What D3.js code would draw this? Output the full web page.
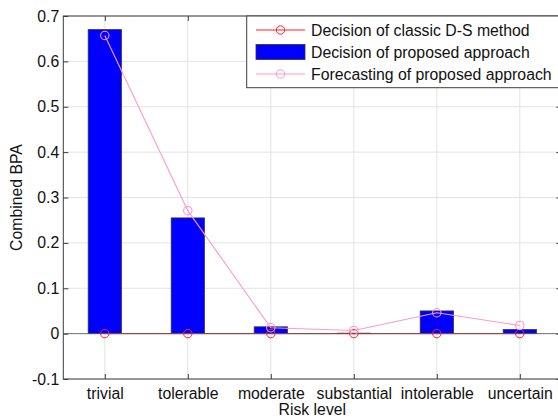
<!DOCTYPE html>
<html>
<head>
<meta charset="utf-8">
<script src="https://cdn.jsdelivr.net/npm/d3@7"></script>
<style>
  html, body { margin: 0; padding: 0; background: #fff; }
  svg { display: block; }
  text { font-family: "Liberation Sans", Arial, sans-serif; }
</style>
</head>
<body>
<div id="chart"></div>
<script>
const categories = ["trivial", "tolerable", "moderate", "substantial", "intolerable", "uncertain"];
const classicDS = [0, 0, 0, 0, 0, 0];
const proposedDecision = [0.67, 0.255, 0.015, 0.001, 0.05, 0.009];
const proposedForecast = [0.657, 0.271, 0.013, 0.007, 0.046, 0.018];
const yTicks = [-0.1, 0, 0.1, 0.2, 0.3, 0.4, 0.5, 0.6, 0.7];
const legendLabels = ["Decision of classic D-S method", "Decision of proposed approach", "Forecasting of proposed approach"];

(function () {
const W = 558, H = 420;
const pL = 63.3, pR = 561.3, pT = 16, pB = 379;
const fs = 15.8;
const axisColor = "#3c3c3c";
const ff = '"Liberation Sans", Arial, sans-serif';

const svg = d3.select("#chart").append("svg").attr("width", W).attr("height", H);
svg.append("rect").attr("width", W).attr("height", H).attr("fill", "#fff");

const x = d3.scaleLinear().domain([0.5, categories.length + 0.5]).range([pL, pR]);
const y = d3.scaleLinear().domain([-0.1, 0.7]).range([pB, pT]);
const idx = categories.map((_, i) => i + 1);

// grid
const grid = svg.append("g").attr("stroke", "#e3e3e3").attr("stroke-width", 1);
grid.selectAll(".gy").data(yTicks).join("line")
  .attr("x1", pL).attr("x2", pR).attr("y1", d => y(d)).attr("y2", d => y(d));
grid.selectAll(".gx").data(idx).join("line")
  .attr("x1", d => x(d)).attr("x2", d => x(d)).attr("y1", pT).attr("y2", pB);

// bars
const bw = 0.4;
svg.append("g").selectAll("rect").data(proposedDecision).join("rect")
  .attr("x", (d, i) => x(i + 1 - bw / 2))
  .attr("width", x(1 + bw / 2) - x(1 - bw / 2))
  .attr("y", d => y(Math.max(d, 0)))
  .attr("height", d => Math.abs(y(0) - y(d)))
  .attr("fill", "#0000ff").attr("stroke", "#333").attr("stroke-width", 0.8);

const lineGen = d3.line().x((d, i) => x(i + 1)).y(d => y(d));
// classic D-S line
svg.append("path").datum(classicDS).attr("d", lineGen)
  .attr("fill", "none").attr("stroke", "#ff2020").attr("stroke-width", 1);

// baseline
svg.append("line").attr("x1", pL).attr("x2", pR).attr("y1", y(0)).attr("y2", y(0))
  .attr("stroke", "#555").attr("stroke-width", 1).attr("opacity", 0.8);

svg.append("g").selectAll("circle").data(classicDS).join("circle")
  .attr("cx", (d, i) => x(i + 1)).attr("cy", d => y(d)).attr("r", 4.2)
  .attr("fill", "none").attr("stroke", "#ff2020").attr("stroke-width", 1);

// forecast line
svg.append("path").datum(proposedForecast).attr("d", lineGen)
  .attr("fill", "none").attr("stroke", "#ff99cc").attr("stroke-width", 1.1);
svg.append("g").selectAll("circle").data(proposedForecast).join("circle")
  .attr("cx", (d, i) => x(i + 1)).attr("cy", d => y(d)).attr("r", 4.2)
  .attr("fill", "none").attr("stroke", "#ff99cc").attr("stroke-width", 1.1);

// axes box
svg.append("rect").attr("x", pL).attr("y", pT).attr("width", pR - pL).attr("height", pB - pT)
  .attr("fill", "none").attr("stroke", axisColor).attr("stroke-width", 1);

// axes with inward ticks
const tl = 5;
svg.append("g").attr("transform", `translate(${pL},0)`)
  .call(d3.axisLeft(y).tickValues(yTicks).tickSize(-tl).tickPadding(4).tickFormat(d => String(+d.toFixed(1))))
  .call(g => g.select(".domain").remove())
  .call(g => g.selectAll("line").attr("stroke", axisColor))
  .call(g => g.selectAll("text").attr("font-size", fs).attr("fill", "#111").style("font-family", ff));
svg.append("g").attr("transform", `translate(${pR},0)`)
  .call(d3.axisRight(y).tickValues(yTicks).tickSize(-tl).tickFormat(""))
  .call(g => g.select(".domain").remove())
  .call(g => g.selectAll("line").attr("stroke", axisColor));
svg.append("g").attr("transform", `translate(0,${pB})`)
  .call(d3.axisBottom(x).tickValues(idx).tickSize(-tl).tickPadding(9).tickFormat(d => categories[d - 1]))
  .call(g => g.select(".domain").remove())
  .call(g => g.selectAll("line").attr("stroke", axisColor))
  .call(g => g.selectAll("text").attr("font-size", fs).attr("fill", "#111").style("font-family", ff));
svg.append("g").attr("transform", `translate(0,${pT})`)
  .call(d3.axisTop(x).tickValues(idx).tickSize(-tl).tickFormat(""))
  .call(g => g.select(".domain").remove())
  .call(g => g.selectAll("line").attr("stroke", axisColor));

// axis titles
svg.append("text").attr("x", (pL + pR) / 2).attr("y", 415).attr("text-anchor", "middle")
  .attr("font-size", fs).attr("fill", "#111").text("Risk level");
svg.append("text").attr("transform", `translate(21.5,${(pT + pB) / 2}) rotate(-90)`)
  .attr("text-anchor", "middle").attr("font-size", fs).attr("fill", "#111").text("Combined BPA");

// legend
const lg = svg.append("g");
lg.append("rect").attr("x", 246.7).attr("y", pT).attr("width", 330).attr("height", 71.7)
  .attr("fill", "#fff").attr("stroke", axisColor).attr("stroke-width", 1);
const rowsY = [30, 52, 74];
const lx1 = 256, lx2 = 305, tx = 311;
lg.append("line").attr("x1", lx1).attr("x2", lx2).attr("y1", rowsY[0]).attr("y2", rowsY[0]).attr("stroke", "#ff2020");
lg.append("circle").attr("cx", (lx1 + lx2) / 2).attr("cy", rowsY[0]).attr("r", 4.2).attr("fill", "none").attr("stroke", "#ff2020");
lg.append("rect").attr("x", lx1).attr("y", rowsY[1] - 7.5).attr("width", lx2 - lx1).attr("height", 15)
  .attr("fill", "#0000ff").attr("stroke", "#333").attr("stroke-width", 0.8);
lg.append("line").attr("x1", lx1).attr("x2", lx2).attr("y1", rowsY[2]).attr("y2", rowsY[2]).attr("stroke", "#ff99cc").attr("stroke-width", 1.1);
lg.append("circle").attr("cx", (lx1 + lx2) / 2).attr("cy", rowsY[2]).attr("r", 4.2).attr("fill", "none").attr("stroke", "#ff99cc").attr("stroke-width", 1.1);
lg.selectAll(".lt").data(legendLabels).join("text")
  .attr("x", tx).attr("y", (d, i) => rowsY[i] + 5.6)
  .attr("font-size", fs).attr("fill", "#111").text(d => d);
})();
</script>
</body>
</html>
